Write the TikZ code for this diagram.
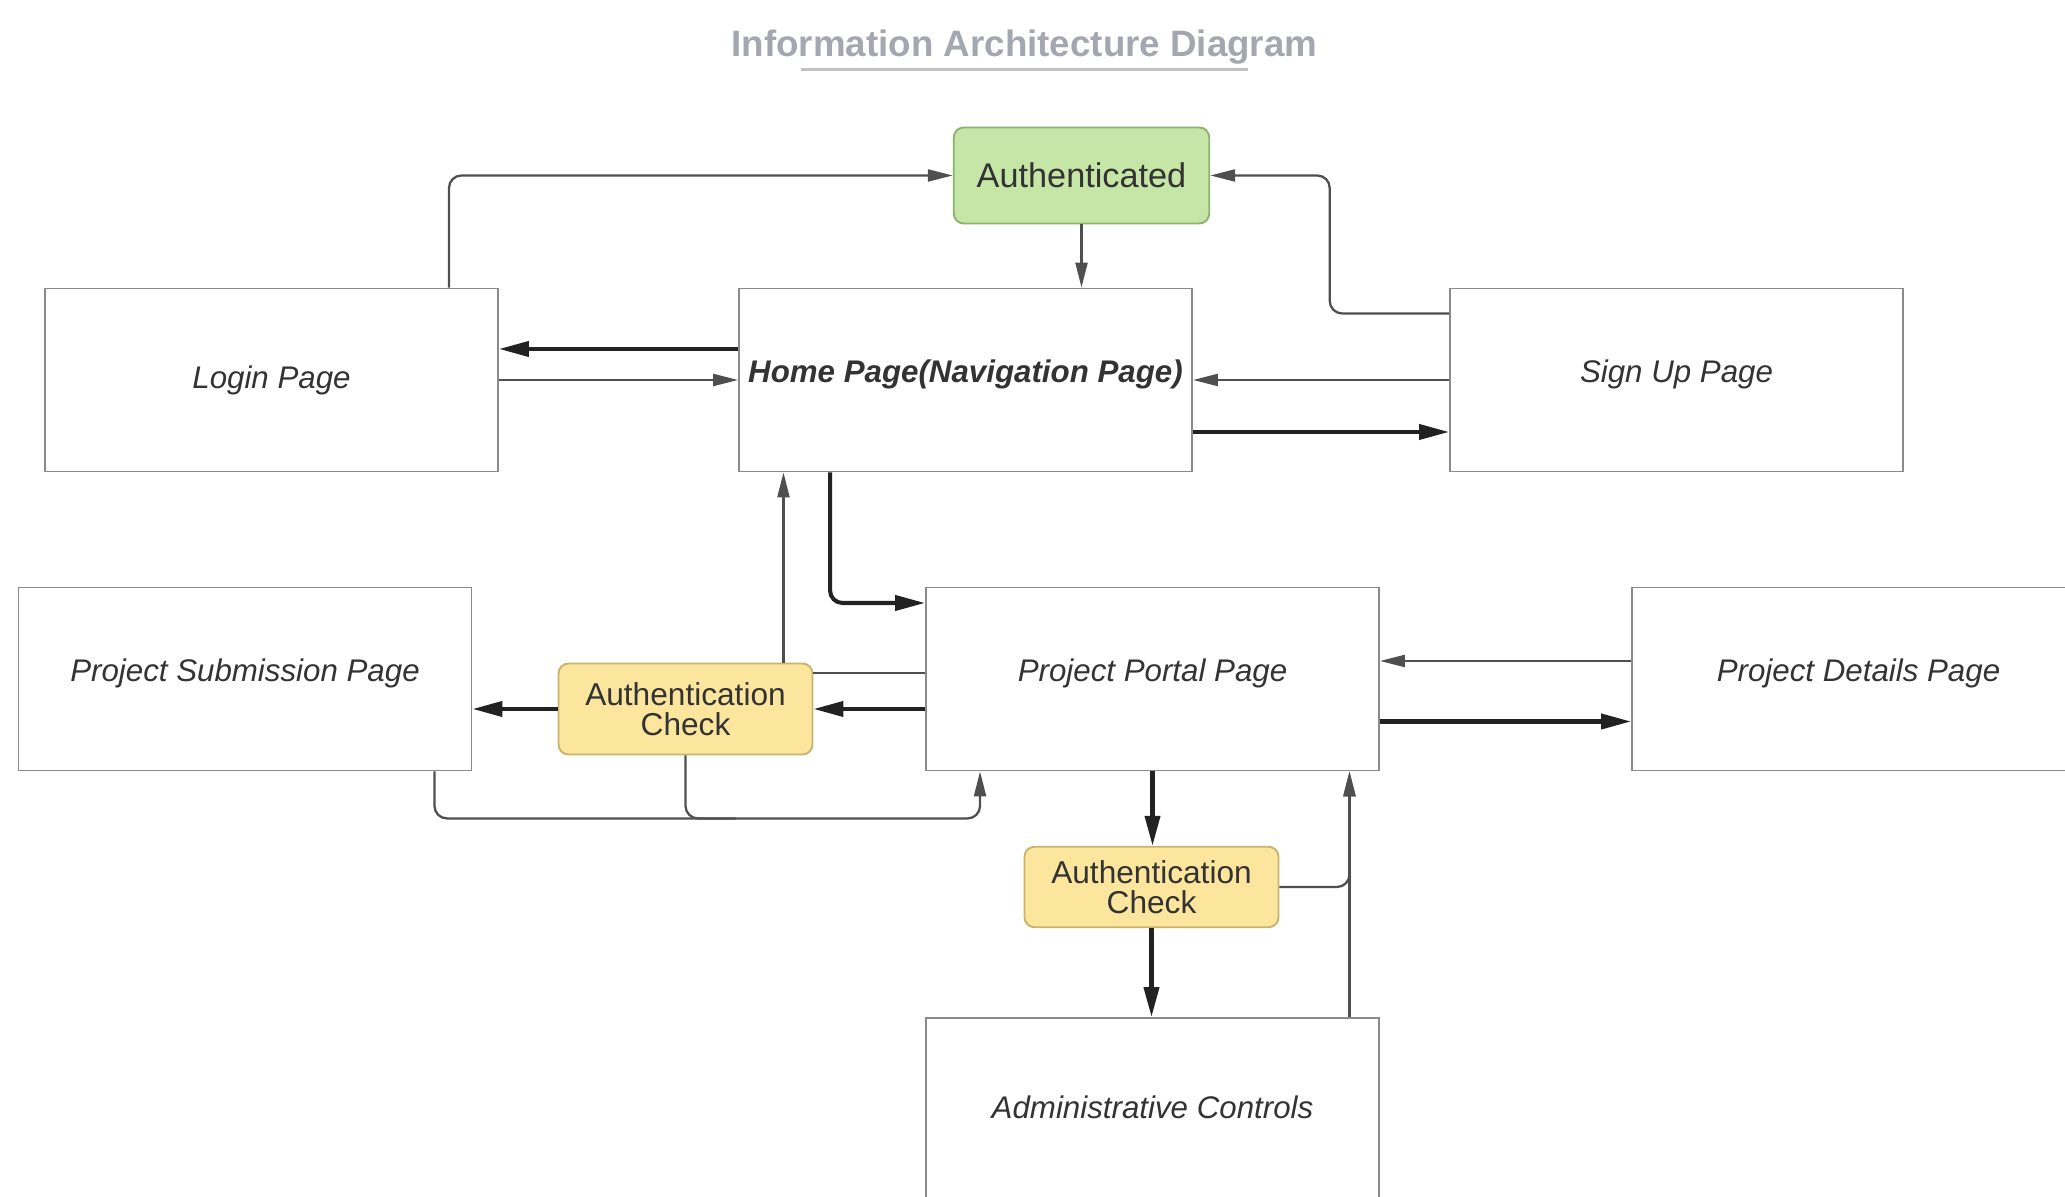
\documentclass[tikz,border=0pt]{standalone}
\usepackage{fontspec}
\setmainfont{Liberation Sans}
\usetikzlibrary{arrows.meta}

\definecolor{boxline}{HTML}{8A8A8A}
\definecolor{flowline}{HTML}{4F4F4F}
\definecolor{flowbold}{HTML}{222222}
\definecolor{authgreen}{HTML}{C5E6A6}
\definecolor{authgreenline}{HTML}{8DB36E}
\definecolor{checkyellow}{HTML}{FCE69E}
\definecolor{checkyellowline}{HTML}{C8B46E}
\definecolor{titlegray}{HTML}{A4A7AF}
\definecolor{textgray}{HTML}{333333}

\begin{document}
\begin{tikzpicture} [pagebox/.style={shape=rectangle,minimum width=9.06cm,minimum height=3.66cm,inner sep=0pt,draw=boxline,line width=1.1pt,fill=white,text=textgray,font=\fontsize{17.8}{20}\selectfont\itshape,text height=0.45cm,text depth=0.34cm},
	authbox/.style={shape=rectangle,rounded corners=0.2cm,minimum width=5.11cm,minimum height=1.92cm,draw=authgreenline,line width=1.1pt,fill=authgreen,text=textgray,font=\fontsize{19.5}{22}\selectfont},
	checkbox/.style={shape=rectangle,rounded corners=0.2cm,minimum width=5.08cm,draw=checkyellowline,line width=1.1pt,fill=checkyellow,text=textgray,align=center,font=\fontsize{18}{17.2}\selectfont},
	flow/.style={draw=flowline,line width=1.3pt,-{Triangle[length=0.5cm,width=0.24cm]}},
	boldflow/.style={draw=flowbold,line width=2.3pt,-{Triangle[length=0.6cm,width=0.3cm]}}]
	\useasboundingbox (0,0) rectangle (41.3,23.94);

	% title
	\node (title) at (20.49,22.99)[inner sep=0pt,text=titlegray,font=\fontsize{20.9}{24}\selectfont\bfseries] {Information Architecture Diagram};
	\draw[titlegray!70,line width=1.7pt] ([xshift=1.39cm,yshift=-0.08cm]title.south west) -- ([xshift=-1.40cm,yshift=-0.08cm]title.south east);

	% pages
	\node (loginPage) at (5.43,16.34)[pagebox,text depth=0.1cm] {Login Page};
	\node (homePage) at (19.31,16.34)[pagebox,font=\fontsize{17.8}{20}\selectfont\bfseries\itshape] {Home Page(Navigation Page)};
	\node (signUpPage) at (33.53,16.34)[pagebox] {Sign Up Page};
	\node (submissionPage) at (4.90,10.36)[pagebox] {Project Submission Page};
	\node (portalPage) at (23.05,10.36)[pagebox] {Project Portal Page};
	\node (detailsPage) at (37.17,10.36)[pagebox] {Project Details Page};
	\node (adminPage) at (23.05,1.75)[pagebox,text depth=0.1cm] {Administrative Controls};

	% checks
	\node (authenticated) at (21.63,20.43)[authbox] {Authenticated};
	\node (checkSubmission) at (13.71,9.76)[checkbox,minimum height=1.82cm] {Authentication\\Check};
	\node (checkAdmin) at (23.03,6.20)[checkbox,minimum height=1.61cm] {Authentication\\Check};

	% top row
	\draw[flow,rounded corners=0.25cm] ([xshift=-1.0cm]loginPage.north east) |- (authenticated.west);
	\draw[flow,rounded corners=0.25cm] ([yshift=1.33cm]signUpPage.west) -| ([xshift=2.39cm]authenticated.east) -- (authenticated.east);
	\draw[flow] (authenticated.south) -- (authenticated.south |- homePage.north);
	\draw[boldflow] ([yshift=0.62cm]homePage.west) -- ([yshift=0.62cm]loginPage.east);
	\draw[flow] (loginPage.east) -- (homePage.west);
	\draw[flow] (signUpPage.west) -- (homePage.east);
	\draw[boldflow] ([yshift=-1.04cm]homePage.east) -- ([yshift=-1.04cm]signUpPage.west);

	% middle row
	\draw[boldflow,rounded corners=0.25cm] ([xshift=1.84cm]homePage.south west) |- ([yshift=1.52cm]portalPage.west);
	\draw[flow] ([xshift=-0.6cm]checkSubmission.north east) -- ([xshift=-0.6cm]checkSubmission.north east |- homePage.south);
	\draw[draw=flowline,line width=1.3pt] ([yshift=0.12cm]portalPage.west) -- ([yshift=0.12cm]portalPage.west -| checkSubmission.east);
	\draw[boldflow] (checkSubmission.east -| portalPage.west) -- (checkSubmission.east);
	\draw[boldflow] (checkSubmission.west) -- (checkSubmission.west -| submissionPage.east);
	\draw[flow,rounded corners=0.25cm] ([xshift=-0.76cm]submissionPage.south east) |- ([xshift=1.1cm,yshift=-0.94cm]portalPage.south west) -- ([xshift=1.1cm]portalPage.south west);
	\draw[draw=flowline,line width=1.3pt,rounded corners=0.25cm] (checkSubmission.south) |- ++(1,-1.26);
	\draw[flow] ([yshift=0.36cm]detailsPage.west) -- ([yshift=0.36cm]portalPage.east);
	\draw[boldflow] ([yshift=-0.85cm]portalPage.east) -- ([yshift=-0.85cm]detailsPage.west);

	% admin branch
	\draw[boldflow] (portalPage.south) -- (portalPage.south |- checkAdmin.north);
	\draw[boldflow] (checkAdmin.south) -- (checkAdmin.south |- adminPage.north);
	\draw[flow,rounded corners=0.25cm] (checkAdmin.east) -| ([xshift=-0.61cm]portalPage.south east);
	\draw[flow] ([xshift=-0.61cm]adminPage.north east) -- ([xshift=-0.61cm]portalPage.south east);
\end{tikzpicture}
\end{document}
